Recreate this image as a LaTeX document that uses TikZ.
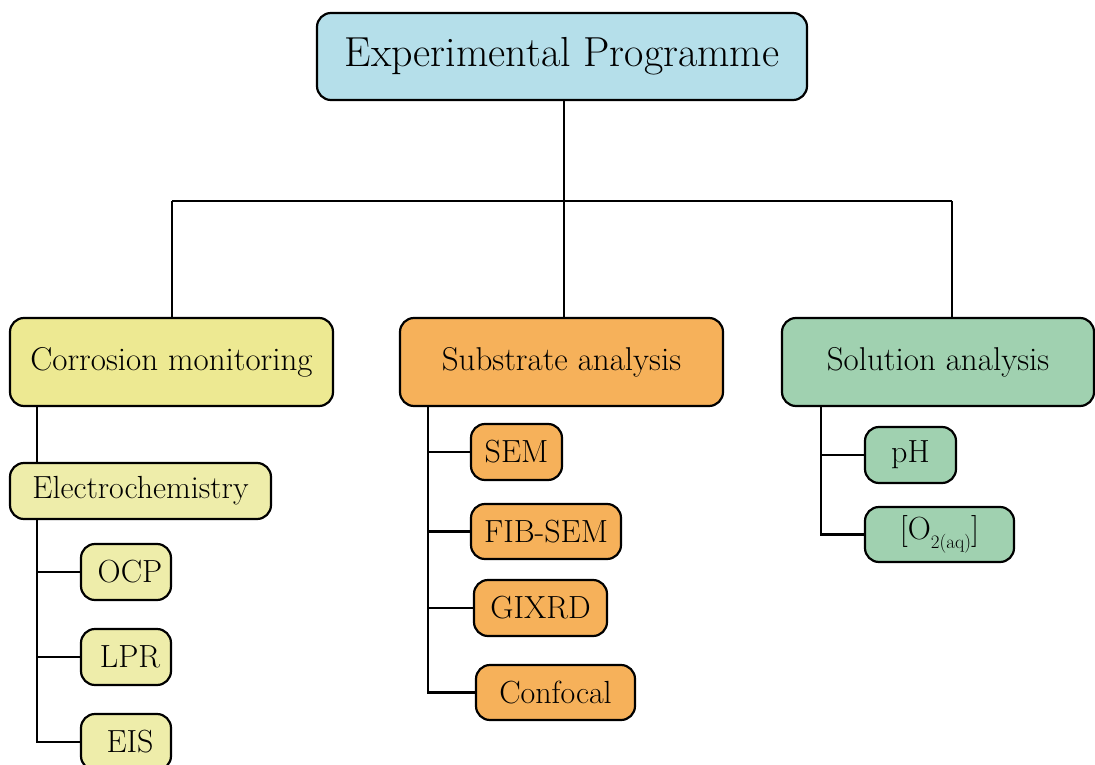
\documentclass[tikz,border=0pt]{standalone}
\usepackage{fontspec}
\definecolor{topblue}{HTML}{B5DFEA}
\definecolor{corrY}{HTML}{EDE992}
\definecolor{lightY}{HTML}{EEEDAA}
\definecolor{orangeB}{HTML}{F6B15A}
\definecolor{greenB}{HTML}{A0D1B0}
\begin{document}
\begin{tikzpicture}[x=1pt,y=-1pt,
  box/.style={draw=black, line width=2.2pt, rounded corners=14pt, inner sep=0pt, align=center},
  big/.style={font=\fontsize{33}{38}\selectfont},
  small/.style={font=\fontsize{32}{36}\selectfont},
  conn/.style={line width=2.2pt}]
\useasboundingbox (0,0) rectangle (1095,765);
\clip (0,0) rectangle (1095,765);
% nodes
\node[box, fill=topblue, minimum width=490pt, minimum height=87pt, font=\fontsize{42}{48}\selectfont] (top) at (562,56.5) {Experimental Programme};
\node[box, big, fill=corrY, minimum width=323pt, minimum height=88pt] (corr) at (171.5,362) {Corrosion monitoring};
\node[box, big, fill=orangeB, minimum width=323pt, minimum height=88pt] (sub) at (561.5,362) {Substrate analysis};
\node[box, big, fill=greenB, minimum width=312pt, minimum height=88pt] (sol) at (938,362) {Solution analysis};
\node[box, small, fill=lightY, minimum width=261pt, minimum height=56pt] (elec) at (140.5,491) {Electrochemistry};
\node[box, small, fill=lightY, minimum width=90pt, minimum height=56pt] (ocp) at (126,572) {\hspace{8pt}OCP};
\node[box, small, fill=lightY, minimum width=90pt, minimum height=56pt] (lpr) at (126,657) {\hspace{8pt}LPR};
\node[box, small, fill=lightY, minimum width=90pt, minimum height=56pt] (eis) at (126,742) {\hspace{8pt}EIS};
\node[box, small, fill=orangeB, minimum width=91pt, minimum height=56pt] (sem) at (516.5,452) {SEM};
\node[box, small, fill=orangeB, minimum width=150pt, minimum height=55pt] (fib) at (546,531.5) {FIB-SEM};
\node[box, small, fill=orangeB, minimum width=133pt, minimum height=56pt] (gix) at (540.5,608) {GIXRD};
\node[box, small, fill=orangeB, minimum width=159pt, minimum height=55pt] (conf) at (555.5,692.5) {Confocal};
\node[box, small, fill=greenB, minimum width=91pt, minimum height=56pt] (ph) at (910.5,455) {pH};
\node[box, small, fill=greenB, minimum width=149pt, minimum height=55pt] (otwo) at (939.5,534.5) {[O\raisebox{-9pt}{\fontsize{19}{19}\selectfont 2(aq)}]};
% bus coordinates
\coordinate (busL) at (172,201);
\coordinate (busM) at (564,201);
\coordinate (busR) at (952,201);
\coordinate (cx) at (37,0);
\coordinate (sx) at (428,0);
\coordinate (gx) at (821,0);
% top level connectors
\draw[conn] (top.south -| busM) -- (busM);
\draw[conn] (busL) -- (busR);
\draw[conn] (busL) -- (busL |- corr.north);
\draw[conn] (busM) -- (busM |- sub.north);
\draw[conn] (busR) -- (busR |- sol.north);
% corrosion subtree
\draw[conn] (corr.south -| cx) -- (elec.north -| cx);
\draw[conn] (elec.south -| cx) |- (eis.west);
\draw[conn] (ocp.west -| cx) -- (ocp.west);
\draw[conn] (lpr.west -| cx) -- (lpr.west);
% substrate subtree
\draw[conn] (sub.south -| sx) |- (conf.west);
\draw[conn] (sem.west -| sx) -- (sem.west);
\draw[conn] (fib.west -| sx) -- (fib.west);
\draw[conn] (gix.west -| sx) -- (gix.west);
% solution subtree
\draw[conn] (sol.south -| gx) |- (otwo.west);
\draw[conn] (ph.west -| gx) -- (ph.west);
\end{tikzpicture}
\end{document}
